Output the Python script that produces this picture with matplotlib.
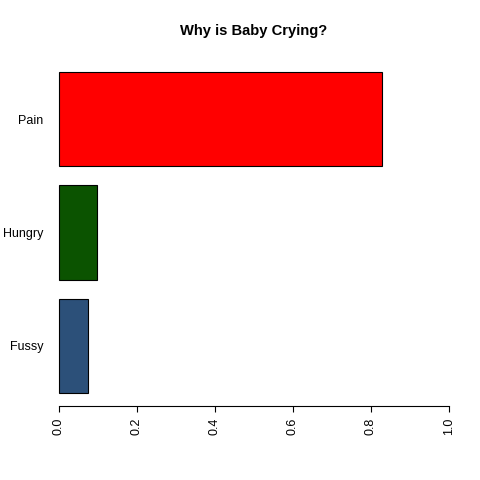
import matplotlib
matplotlib.use('Agg')
import matplotlib.pyplot as plt

# data (bottom to top, as R draws horizontal bars)
reasons = ['Fussy', 'Hungry', 'Pain']
probs = [0.075, 0.097, 0.828]
colors = ['#2C5079', '#0B5300', '#FF0000']
ticks = [0.0, 0.2, 0.4, 0.6, 0.8, 1.0]

plt.rcParams['font.family'] = 'Liberation Sans'

fig = plt.figure(figsize=(4.8, 4.8), dpi=100)
ax = fig.add_axes([43.4 / 480, 1 - 406 / 480, 421.2 / 480, 347 / 480])

centers = [0.7 + 1.2 * i for i in range(len(reasons))]
ax.barh(centers, probs, height=1.0, color=colors, edgecolor='black', linewidth=0.8)

ax.set_xlim(-0.04, 1.04)
ax.set_ylim(0.2 - 0.136, 3.6 + 0.136)

for s in ['top', 'right', 'left']:
    ax.spines[s].set_visible(False)
ax.spines['bottom'].set_bounds(0, 1)
ax.spines['bottom'].set_linewidth(0.8)

ax.set_xticks(ticks)
ax.set_xticklabels(['%.1f' % t for t in ticks], rotation=90, fontsize=9)
ax.tick_params(axis='x', length=4.3, width=0.8, pad=4)
ax.set_yticks(centers)
ax.set_yticklabels(reasons, fontsize=9)
ax.tick_params(axis='y', length=0, pad=0)

ax.set_title('Why is Baby Crying?', fontsize=10.6, fontweight='bold', pad=0,
             y=1 + (59 - 31) / 347, va='center')

fig.savefig('out.png', dpi=100)
